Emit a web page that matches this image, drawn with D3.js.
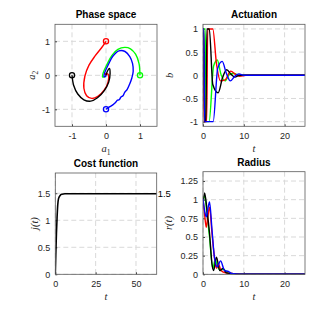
<!DOCTYPE html>
<meta charset="utf-8">
<script src="https://d3js.org/d3.v7.min.js"></script>
<style>
  body { margin: 0; background: #fff; }
  svg text { font-family: "Liberation Sans", Arial, sans-serif; }
</style>
<div id="chart"></div>
<script>

// ---- data ----
var seriesNames = ["green", "red", "black", "blue"];
var seriesColors = {green: "#00ff00", red: "#ff0000", black: "#000000", blue: "#0000ff"};

// phase space trajectories [a1, a2]
var phaseRed = [[0,1],[-0.13,0.81],[-0.32,0.57],[-0.5,0.3],[-0.62,-0.02],[-0.65,-0.38],[-0.57,-0.6],[-0.42,-0.68],[-0.24,-0.62],[-0.05,-0.43],[0.06,-0.2],[0.06,0.03],[-0.02,0.05],[0,0]];
var phaseBlack = [[-1,0],[-0.95,-0.3],[-0.83,-0.55],[-0.65,-0.72],[-0.45,-0.76],[-0.25,-0.66],[-0.05,-0.45],[0.08,-0.2],[0.12,0.05],[0.1,0.2],[0.04,0.12],[0,0]];
var phaseGreen = [[1,0],[0.97,0.35],[0.87,0.62],[0.72,0.78],[0.55,0.82],[0.35,0.76],[0.17,0.58],[0.03,0.32],[-0.08,0.08],[-0.1,-0.05],[-0.04,-0.04],[0,0]];
var phaseBlue = [[0,-1],[0.1,-0.93],[0.2,-0.87],[0.28,-0.8],[0.34,-0.73],[0.39,-0.72],[0.44,-0.64],[0.5,-0.6],[0.55,-0.5],[0.62,-0.42],[0.7,-0.25],[0.76,-0.08],[0.8,0.12],[0.78,0.35],[0.7,0.55],[0.56,0.7],[0.38,0.72],[0.2,0.56],[0.07,0.32],[-0.03,0.1],[-0.06,-0.03],[-0.02,-0.04],[0,0]];

// actuation b(t) [t, b]
var actRed = [[0,1],[0.1,1],[0.25,-1],[0.9,-1],[1.15,1],[2.4,1],[3.3,0.25],[4.3,-0.12],[5.4,-0.1],[6.8,0.09],[8,0.02],[9,-0.02],[10.5,0],[25,0]];
var actGreen = [[0,1],[0.55,1],[0.8,-1],[1.5,-1],[2.6,0.2],[3.5,0.33],[4.4,0.02],[5.4,-0.12],[6.5,0.02],[7.5,0.04],[9,0],[25,0]];
var actBlack = [[0,1],[0.2,1],[0.4,-1],[0.7,-1],[0.95,1],[1.55,1],[2.4,-0.2],[3.7,-0.38],[4.8,-0.05],[5.8,0.12],[6.9,0.02],[7.8,-0.04],[9,0],[25,0]];
var actBlue = [[0,1],[0.2,1],[0.4,-1],[2.5,-1],[3.6,0.15],[4.7,0.3],[5.7,0.05],[6.7,-0.12],[7.8,-0.02],[8.8,0.03],[10,0],[25,0]];

// cost function j(t)
var costT = [0, 0.3, 0.7, 1.1, 1.5, 2, 3, 4, 6, 10, 62.83];
var costJ = [0, 0.35, 0.75, 1.05, 1.28, 1.4, 1.46, 1.48, 1.49, 1.49, 1.49];

// radius r(t)
var radRed = [[0,1],[0.4,0.8],[0.8,0.63],[1.2,0.78],[1.6,0.9],[2.2,0.55],[2.8,0.23],[3.3,0.08],[3.8,0.14],[4.4,0.05],[5.5,0.02],[7,0.01],[9,0],[25,0]];
var radGreen = [[0,1],[0.4,1.05],[1,0.8],[1.6,0.5],[2.4,0.08],[3,0.2],[3.6,0.1],[4.3,0.05],[5,0.07],[6,0.02],[8,0],[25,0]];
var radBlack = [[0,0.92],[0.4,1.09],[1,0.85],[1.6,0.55],[2.2,0.14],[2.6,0.05],[3.3,0.23],[4.1,0.05],[4.9,0.08],[5.7,0.02],[7,0.01],[9,0],[25,0]];
var radBlue = [[0,1.01],[0.4,0.85],[0.8,0.77],[1.2,0.88],[1.6,0.97],[2.2,0.6],[2.8,0.23],[3.5,0.1],[4.3,0.18],[5.3,0.05],[6.2,0.04],[7,0.01],[9,0],[25,0]];

var phaseData = {red: phaseRed, green: phaseGreen, black: phaseBlack, blue: phaseBlue};
var actData = {red: actRed, green: actGreen, black: actBlack, blue: actBlue};
var radData = {red: radRed, green: radGreen, black: radBlack, blue: radBlue};

// ---- drawing ----
var svg = d3.select("#chart").append("svg")
  .attr("width", 336).attr("height", 314);

var fmt = function(d) { return String(d); };

function panel(o) {
  var x = d3.scaleLinear().domain(o.xd).range([o.left, o.right]);
  var y = d3.scaleLinear().domain(o.yd).range([o.bottom, o.top]);
  var g = svg.append("g");

  // grid
  g.selectAll(".gx").data(o.xt).enter().append("line")
    .attr("x1", d => x(d)).attr("x2", d => x(d))
    .attr("y1", o.top).attr("y2", o.bottom)
    .attr("stroke", "#d9d9d9").attr("stroke-dasharray", "5,3");
  g.selectAll(".gy").data(o.yt).enter().append("line")
    .attr("y1", d => y(d)).attr("y2", d => y(d))
    .attr("x1", o.left).attr("x2", o.right)
    .attr("stroke", "#d9d9d9").attr("stroke-dasharray", "5,3");

  // axes (ticks inward)
  var ax = g.append("g").attr("transform", "translate(0," + o.bottom + ")")
    .call(d3.axisBottom(x).tickValues(o.xt).tickFormat(fmt).tickSizeInner(-2).tickSizeOuter(0).tickPadding(5));
  var ay = g.append("g").attr("transform", "translate(" + o.left + ",0)")
    .call(d3.axisLeft(y).tickValues(o.yt).tickFormat(fmt).tickSizeInner(-2).tickSizeOuter(0).tickPadding(5));
  [ax, ay].forEach(function(a) {
    a.select(".domain").remove();
    a.selectAll("line").attr("stroke", "#444");
    a.selectAll("text").style("font-size", "9px").attr("fill", "#262626")
      .style("font-family", "Liberation Sans, Arial, sans-serif");
  });
  ax.selectAll("text").attr("dy", "0.9em");

  var clip = "clip" + o.id;
  svg.append("clipPath").attr("id", clip).append("rect")
    .attr("x", o.left).attr("y", o.top)
    .attr("width", o.right - o.left).attr("height", o.bottom - o.top);

  var lines = g.append("g").attr("clip-path", "url(#" + clip + ")");

  // box
  g.append("rect").attr("x", o.left).attr("y", o.top)
    .attr("width", o.right - o.left).attr("height", o.bottom - o.top)
    .attr("fill", "none").attr("stroke", "#5a5a5a").attr("stroke-width", 0.8);

  // title
  g.append("text").attr("x", (o.left + o.right) / 2).attr("y", o.top - 6)
    .attr("text-anchor", "middle").style("font-size", "10px").style("font-weight", "bold")
    .text(o.title);

  return {x: x, y: y, g: g, lines: lines};
}

function xlabel(p, cx, cy, main, sub) {
  var t = p.g.append("text").attr("x", cx).attr("y", cy).attr("text-anchor", "middle")
    .style("font-family", "Liberation Serif, serif").style("font-size", "10.5px")
    .attr("fill", "#262626");
  t.append("tspan").style("font-style", "italic").text(main);
  if (sub) t.append("tspan").attr("dy", 2.5).style("font-size", "7.5px").text(sub);
}
function ylabel(p, cx, cy, main, sub) {
  var t = p.g.append("text").attr("transform", "translate(" + cx + "," + cy + ") rotate(-90)")
    .attr("text-anchor", "middle")
    .style("font-family", "Liberation Serif, serif").style("font-size", "10.5px")
    .attr("fill", "#262626");
  t.append("tspan").style("font-style", "italic").text(main);
  if (sub) t.append("tspan").attr("dy", 2.5).style("font-size", "7.5px").text(sub);
}

// Phase space
var p1 = panel({id: 1, left: 55, right: 157, top: 24.3, bottom: 126.3,
  xd: [-1.5, 1.5], yd: [-1.5, 1.5], xt: [-1, 0, 1], yt: [-1, 0, 1], title: "Phase space"});
var phaseLine = d3.line().x(d => p1.x(d[0])).y(d => p1.y(d[1])).curve(d3.curveCatmullRom);
seriesNames.forEach(function(k) {
  p1.lines.append("path").attr("d", phaseLine(phaseData[k]))
    .attr("fill", "none").attr("stroke", seriesColors[k]).attr("stroke-width", 1.4);
});
seriesNames.forEach(function(k) {
  p1.lines.append("circle").attr("cx", p1.x(phaseData[k][0][0])).attr("cy", p1.y(phaseData[k][0][1]))
    .attr("r", 2.6).attr("fill", "none").attr("stroke", seriesColors[k]).attr("stroke-width", 1.3);
});
xlabel(p1, 106, 152, "a", "1");
ylabel(p1, 35, 75.3, "a", "2");

// Actuation
var p2 = panel({id: 2, left: 203, right: 305, top: 24.3, bottom: 126.3,
  xd: [0, 25], yd: [-1.1, 1.1], xt: [0, 10, 20], yt: [-1, -0.5, 0, 0.5, 1], title: "Actuation"});
var actLine = d3.line().x(d => p2.x(d[0])).y(d => p2.y(d[1])).curve(d3.curveMonotoneX);
seriesNames.forEach(function(k) {
  p2.lines.append("path").attr("d", actLine(actData[k]))
    .attr("fill", "none").attr("stroke", seriesColors[k]).attr("stroke-width", 1.4);
});
xlabel(p2, 254, 152, "t");
ylabel(p2, 173, 75.3, "b");

// Cost function
var p3 = panel({id: 3, left: 55.3, right: 156.7, top: 173, bottom: 274.3,
  xd: [0, 62.83], yd: [0, 1.875], xt: [0, 25, 50], yt: [0, 0.5, 1, 1.5], title: "Cost function"});
var costLine = d3.line().x((d, i) => p3.x(costT[i])).y(d => p3.y(d)).curve(d3.curveMonotoneX);
p3.lines.append("path").attr("d", costLine(costJ))
  .attr("fill", "none").attr("stroke", "#000").attr("stroke-width", 1.6);
p3.g.append("text").attr("x", p3.x(62.83) + 1).attr("y", p3.y(costJ[costJ.length - 1]))
  .attr("dy", "0.35em").style("font-size", "9.5px").attr("fill", "#000").text("1.5");
xlabel(p3, 106, 300, "t");
ylabel(p3, 38, 223.6, "j(t)");

// Radius
var p4 = panel({id: 4, left: 203, right: 305, top: 171.7, bottom: 274.3,
  xd: [0, 25], yd: [0, 1.375], xt: [0, 10, 20], yt: [0, 0.25, 0.5, 0.75, 1, 1.25], title: "Radius"});
var radLine = d3.line().x(d => p4.x(d[0])).y(d => p4.y(d[1])).curve(d3.curveMonotoneX);
seriesNames.forEach(function(k) {
  p4.lines.append("path").attr("d", radLine(radData[k]))
    .attr("fill", "none").attr("stroke", seriesColors[k]).attr("stroke-width", 1.4);
});
xlabel(p4, 254, 300, "t");
ylabel(p4, 172, 223, "r(t)");

</script>
